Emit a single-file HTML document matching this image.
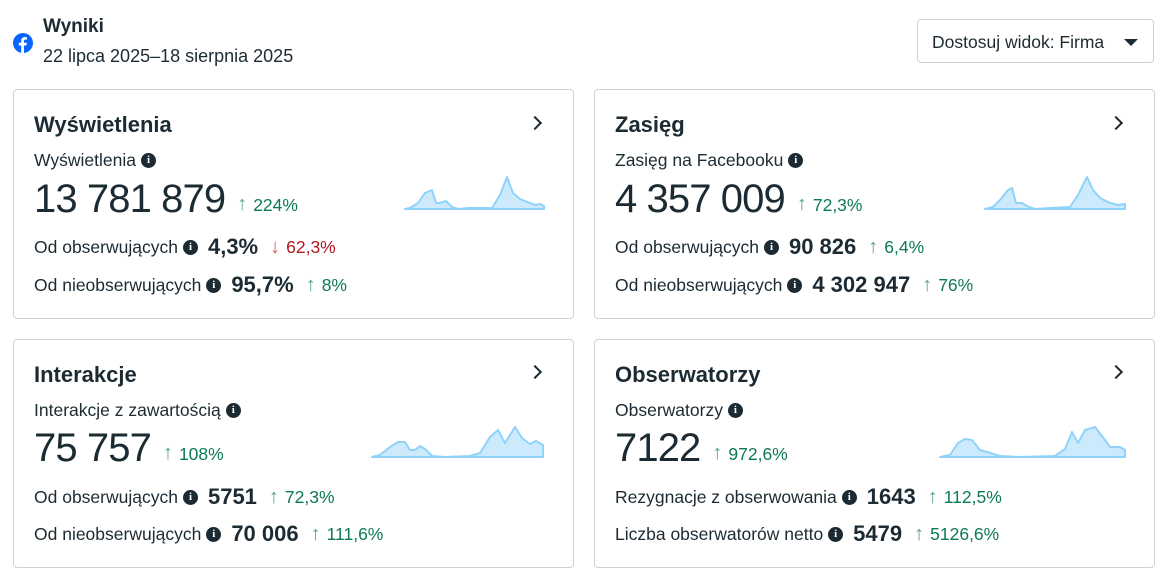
<!DOCTYPE html>
<html><head><meta charset="utf-8"><style>
*{margin:0;padding:0;box-sizing:border-box}
body{width:1166px;height:581px;background:#fff;font-family:"Liberation Sans",sans-serif;color:#1c2b33;position:relative;overflow:hidden}
.a{position:absolute;white-space:nowrap}
.card{position:absolute;border:1px solid #cbd2d9;border-radius:4px;background:#fff}
.t{font-size:22px;font-weight:bold}
.s{font-size:17px}
.big{font-size:40px;letter-spacing:-0.9px}
.row{display:flex;align-items:center;font-size:17.5px}
.i{display:inline-block;width:15px;height:15px;border-radius:50%;background:#1c2b33;color:#fff;font-size:11px;font-weight:bold;text-align:center;line-height:15px;font-family:"Liberation Serif",serif;margin-left:5px}
.v{font-weight:bold;font-size:22px;margin-left:10px}
.g{color:#0b7a55;font-size:17.5px}
.r{color:#b0171f;font-size:17.5px}
.up,.dn{font-size:20px;margin:0 6px 0 12px;color:#55a682}
.dn{color:#d15c63}
.chev{width:10px;height:10px;border-top:2px solid #1c2b33;border-right:2px solid #1c2b33;transform:rotate(45deg)}
</style></head><body>
<svg class="a" style="left:13px;top:33px" width="20" height="20" viewBox="0 0 20 20"><circle cx="10" cy="10" r="10" fill="#0866ff"/><path d="M11 20V12.5h2.4l.4-2.8H11V8c0-.8.3-1.4 1.4-1.4h1.5V4.2c-.3 0-1.1-.1-2.1-.1-2.2 0-3.6 1.3-3.6 3.7v1.9H5.8v2.8h2.4V20z" fill="#fff"/></svg>
<div class="a" style="left:43px;top:16px;font-size:19px;font-weight:bold">Wyniki</div>
<div class="a" style="left:43px;top:46px;font-size:18px">22 lipca 2025–18 sierpnia 2025</div>
<div class="a" style="left:917px;top:19px;width:237px;height:44px;border:1px solid #cbd2d9;border-radius:4px"></div>
<div class="a" style="left:932px;top:32px;font-size:17.5px">Dostosuj widok: Firma</div>
<div class="a" style="left:1124px;top:39px;width:0;height:0;border-left:7px solid transparent;border-right:7px solid transparent;border-top:7px solid #1c2b33"></div>

<div class="card" style="left:13px;top:89px;width:561px;height:230px"></div>
<div class="card" style="left:594px;top:89px;width:561px;height:230px"></div>
<div class="card" style="left:13px;top:339px;width:561px;height:229px"></div>
<div class="card" style="left:594px;top:339px;width:561px;height:229px"></div>

<!-- card 1 -->
<div class="a t" style="left:34px;top:112px">Wyświetlenia</div>
<div class="a chev" style="left:530px;top:118px"></div>
<div class="a s row" style="left:34px;top:150px">Wyświetlenia<span class="i">i</span></div>
<div class="a row" style="left:34px;top:177px"><span class="big">13 781 879</span><span class="up" style="margin-top:10px">↑</span><span class="g" style="margin-top:12px">224%</span></div>
<div class="a row" style="left:34px;top:234px">Od obserwujących<span class="i">i</span><span class="v">4,3%</span><span class="dn">↓</span><span class="r">62,3%</span></div>
<div class="a row" style="left:34px;top:272px">Od nieobserwujących<span class="i">i</span><span class="v">95,7%</span><span class="up">↑</span><span class="g">8%</span></div>

<!-- card 2 -->
<div class="a t" style="left:615px;top:112px">Zasięg</div>
<div class="a chev" style="left:1111px;top:118px"></div>
<div class="a s row" style="left:615px;top:150px">Zasięg na Facebooku<span class="i">i</span></div>
<div class="a row" style="left:615px;top:177px"><span class="big">4 357 009</span><span class="up" style="margin-top:10px">↑</span><span class="g" style="margin-top:12px">72,3%</span></div>
<div class="a row" style="left:615px;top:234px">Od obserwujących<span class="i">i</span><span class="v">90 826</span><span class="up">↑</span><span class="g">6,4%</span></div>
<div class="a row" style="left:615px;top:272px">Od nieobserwujących<span class="i">i</span><span class="v">4 302 947</span><span class="up">↑</span><span class="g">76%</span></div>

<!-- card 3 -->
<div class="a t" style="left:34px;top:362px">Interakcje</div>
<div class="a chev" style="left:530px;top:367px"></div>
<div class="a s row" style="left:34px;top:400px">Interakcje z zawartością<span class="i">i</span></div>
<div class="a row" style="left:34px;top:426px"><span class="big">75 757</span><span class="up" style="margin-top:10px">↑</span><span class="g" style="margin-top:12px">108%</span></div>
<div class="a row" style="left:34px;top:484px">Od obserwujących<span class="i">i</span><span class="v">5751</span><span class="up">↑</span><span class="g">72,3%</span></div>
<div class="a row" style="left:34px;top:521px">Od nieobserwujących<span class="i">i</span><span class="v">70 006</span><span class="up">↑</span><span class="g">111,6%</span></div>

<!-- card 4 -->
<div class="a t" style="left:615px;top:362px">Obserwatorzy</div>
<div class="a chev" style="left:1111px;top:367px"></div>
<div class="a s row" style="left:615px;top:400px">Obserwatorzy<span class="i">i</span></div>
<div class="a row" style="left:615px;top:426px"><span class="big">7122</span><span class="up" style="margin-top:10px">↑</span><span class="g" style="margin-top:12px">972,6%</span></div>
<div class="a row" style="left:615px;top:484px">Rezygnacje z obserwowania<span class="i">i</span><span class="v">1643</span><span class="up">↑</span><span class="g">112,5%</span></div>
<div class="a row" style="left:615px;top:521px">Liczba obserwatorów netto<span class="i">i</span><span class="v">5479</span><span class="up">↑</span><span class="g">5126,6%</span></div>

<svg class="a" style="left:0;top:0" width="1166" height="581">
<g fill="#cdeafc" stroke="#8fd3fa" stroke-width="2" stroke-linejoin="round">
<polygon points="405,209 410,208 418,203 425,193 432,190 436,203 440,203 446,201 452,207 458,209 470,208 492,208 500,195 507,177 513,193 520,199 530,203 536,205 540,204 544,206 544,209"/>
<polygon points="985,209 993,207 1000,200 1008,190 1012,188 1016,203 1022,203 1027,206 1035,209 1050,208 1070,207 1078,195 1087,177 1093,190 1100,198 1110,203 1118,205 1125,204 1125,209"/>
<polygon points="372,457 380,455 390,447 398,442 405,442 410,450 415,450 420,446 425,449 432,456 445,457 470,456 480,453 490,437 498,430 505,443 515,427 522,438 530,444 536,441 543,445 543,457"/>
<polygon points="940,457 950,455 958,443 965,439 972,440 980,450 987,452 1000,456 1020,457 1055,456 1065,449 1072,432 1078,443 1085,430 1095,427 1105,440 1110,447 1120,447 1125,450 1125,457"/>
</g></svg>
</body></html>
